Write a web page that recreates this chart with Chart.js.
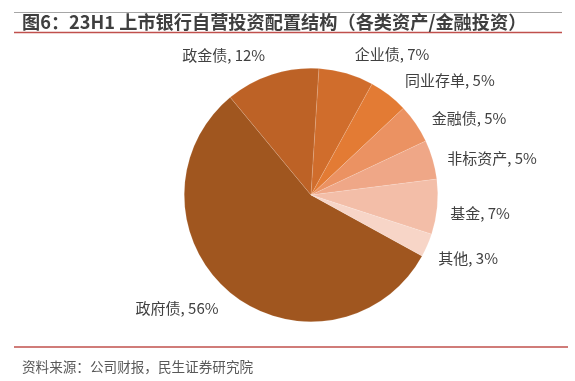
<!DOCTYPE html>
<html>
<head>
<meta charset="utf-8">
<script src="https://cdn.jsdelivr.net/npm/chart.js@4"></script>
<style>
  html, body { margin: 0; padding: 0; background: #ffffff; }
  canvas { display: block; }
</style>
</head>
<body>
<canvas id="c" width="575" height="381"></canvas>
<script>
// ---- data ----
const categories = ['政府债', '政金债', '企业债', '同业存单', '金融债', '非标资产', '基金', '其他'];
const shares = [56, 12, 7, 5, 5, 5, 7, 3];
const sliceColors = ['#A0561F', '#BD6226', '#D06D2C', '#E37B34', '#EB9262', '#EFA787', '#F3BEA8', '#F7D5C7'];
const titleText = '图6：23H1 上市银行自营投资配置结构（各类资产/金融投资）';
const sourceText = '资料来源：公司财报，民生证券研究院';

const FONT = '"Noto Sans CJK SC", "Noto Sans", sans-serif';

const decorPlugin = {
  id: 'decor',
  afterDraw(chart, args, opts) {
    const ctx = chart.ctx;
    ctx.save();
    // title lines
    ctx.strokeStyle = '#A6A6A6';
    ctx.lineWidth = 1;
    ctx.beginPath(); ctx.moveTo(14, 12.5); ctx.lineTo(562, 12.5); ctx.stroke();
    ctx.strokeStyle = '#C0504D';
    ctx.lineWidth = 1.5;
    ctx.beginPath(); ctx.moveTo(14, 32.5); ctx.lineTo(562, 32.5); ctx.stroke();
    ctx.beginPath(); ctx.moveTo(14, 347); ctx.lineTo(568, 347); ctx.stroke();
    // title
    ctx.fillStyle = '#3F3F3F';
    ctx.font = 'bold 18.2px ' + FONT;
    ctx.textAlign = 'left';
    ctx.textBaseline = 'middle';
    ctx.fillText(titleText, 22, 22);
    // footer
    ctx.fillStyle = '#595959';
    ctx.font = '13.6px ' + FONT;
    ctx.fillText(sourceText, 22, 367);

    // slice labels
    const meta = chart.getDatasetMeta(0);
    ctx.font = '15px ' + FONT;
    ctx.fillStyle = '#404040';
    meta.data.forEach((arc, i) => {
      const p = arc.getProps(['x', 'y', 'startAngle', 'endAngle', 'outerRadius'], true);
      const mid = (p.startAngle + p.endAngle) / 2;
      const R = p.outerRadius + 12;
      const px = p.x + Math.cos(mid) * R;
      const py = p.y + Math.sin(mid) * R;
      const n = opts.nudges[i] || [0, 0];
      ctx.textAlign = Math.cos(mid) >= 0 ? 'left' : 'right';
      ctx.textBaseline = 'middle';
      ctx.fillText(categories[i] + ', ' + shares[i] + '%', px + n[0], py + n[1]);
    });
    ctx.restore();
  }
};

new Chart(document.getElementById('c'), {
  type: 'pie',
  data: {
    labels: categories,
    datasets: [{
      data: shares,
      backgroundColor: sliceColors,
      borderColor: 'rgba(255,255,255,0.25)',
      borderWidth: 0.5
    }]
  },
  options: {
    responsive: false,
    devicePixelRatio: 1,
    animation: false,
    rotation: 118.8,
    layout: { padding: { top: 68, bottom: 59, left: 100, right: 53 } },
    plugins: {
      legend: { display: false },
      tooltip: { enabled: false },
      decor: {
        nudges: [[-4, 6], [-3, -8], [5, -7], [9, -5], [6, 1], [3, 2], [1, 5], [0, 8]]
      }
    }
  },
  plugins: [decorPlugin]
});
</script>
</body>
</html>
